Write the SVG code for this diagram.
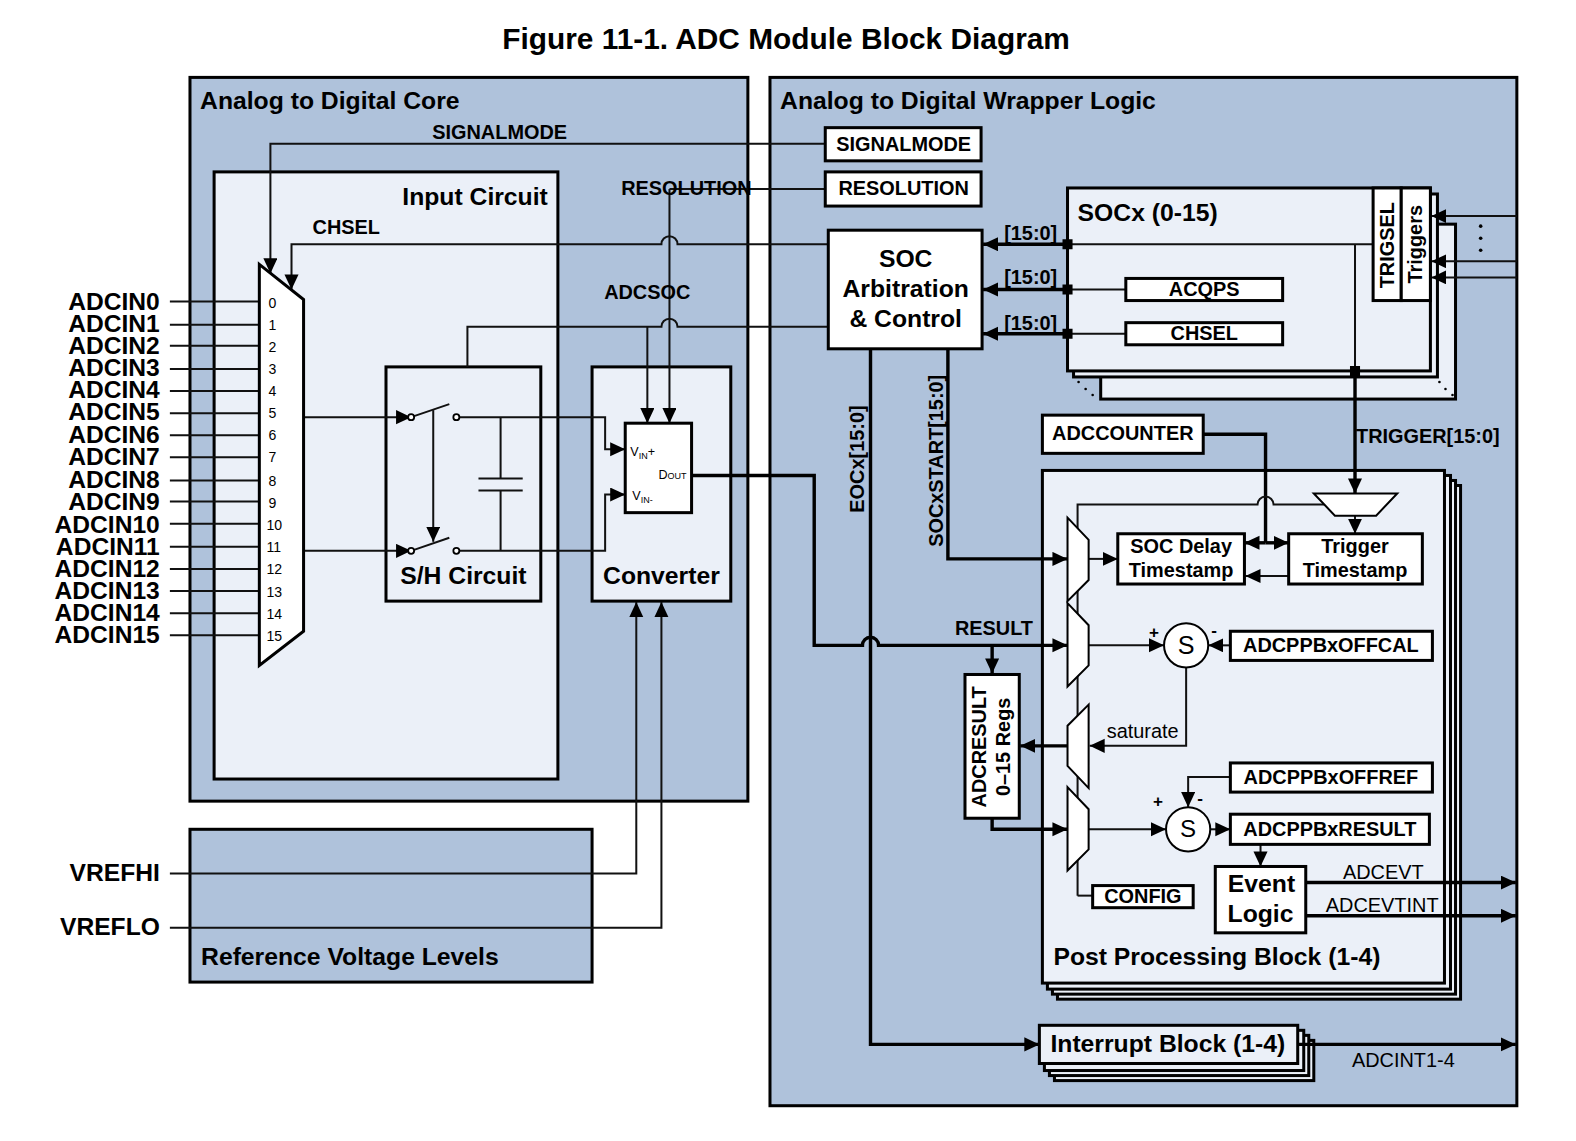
<svg xmlns="http://www.w3.org/2000/svg" width="1576" height="1141" viewBox="0 0 1576 1141">
<style>
text{font-family:"Liberation Sans",Arial,sans-serif;fill:#000}
.b{font-weight:bold}
.m{text-anchor:middle}
.e{text-anchor:end}
.panel{fill:#afc2db;stroke:#000;stroke-width:3}
.light{fill:#ebf0f8;stroke:#000;stroke-width:3}
.white{fill:#fff;stroke:#000;stroke-width:3}
.thin{fill:#fff;stroke:#000;stroke-width:2}
.t{fill:none;stroke:#111;stroke-width:2}
.k{fill:none;stroke:#000;stroke-width:3.4}
.a{marker-end:url(#ar)}
.s{font-size:24.6px}
.reg{font-size:19.8px}
.lab{font-size:19.8px}
.in{font-size:24.5px}
.n{font-size:14px}
</style>
<defs>
<marker id="ar" markerUnits="userSpaceOnUse" markerWidth="17" markerHeight="16" refX="15" refY="7" orient="auto"><path d="M0,0L15,7L0,14Z" fill="#000"/></marker>
</defs>
<rect width="1576" height="1141" fill="#fff"/>
<g transform="scale(1.0052)">
<text class="b m" x="782" y="49" font-size="29.7">Figure 11-1. ADC Module Block Diagram</text>

<g id="core"><rect class="panel" x="189" y="77" width="555" height="720"/><text class="b s" x="199" y="108">Analog to Digital Core</text></g>
<g id="wrapper"><rect class="panel" x="766" y="77" width="743" height="1023"/><text class="b s" x="776" y="108">Analog to Digital Wrapper Logic</text></g>
<g id="input-circuit"><rect class="light" x="213" y="171" width="342" height="604"/><text class="b s e" x="545" y="204">Input Circuit</text></g>
<g id="sh-circuit"><rect class="light" x="384" y="365" width="154" height="233"/><text class="b s m" x="461" y="581">S/H Circuit</text></g>
<g id="converter"><rect class="light" x="589" y="365" width="138" height="233"/><text class="b s m" x="658" y="581">Converter</text></g>
<g id="reference"><rect class="panel" x="189" y="825" width="400" height="152"/><text class="b s" x="200" y="960">Reference Voltage Levels</text></g>
<g id="socx-back"><rect class="light" x="1095" y="223" width="353" height="174"/><rect class="light" x="1068" y="193" width="362" height="182"/></g>
<g id="socx"><rect class="light" x="1062" y="187" width="361" height="182"/><text class="b s" x="1072" y="220">SOCx (0-15)</text></g>
<g id="ppb"><rect class="light" x="1052" y="483" width="401" height="511"/><rect class="light" x="1047" y="478" width="401" height="511"/><rect class="light" x="1042" y="473" width="401" height="511"/><rect class="light" x="1037" y="468" width="400" height="510"/><text class="b s" x="1048" y="960">Post Processing Block (1-4)</text></g>
<g id="interrupt"><rect class="light" x="1049" y="1035" width="258" height="40"/><rect class="light" x="1044" y="1030" width="258" height="40"/><rect class="light" x="1039" y="1025" width="258" height="40"/><rect class="light" x="1034" y="1020" width="257" height="38"/><text class="b s" x="1045" y="1047">Interrupt Block (1-4)</text></g>

<g id="connectors">
<path class="t a" d="M821,143H269V272"/>
<path class="t" d="M821,188H666"/>
<path class="t a" d="M666,188V421"/>
<path class="t a" d="M824,243H674A8,8 0 0 0 658,243H290V288"/>
<path class="t" d="M824,325H674A8,8 0 0 0 658,325H465V365"/>
<path class="t a" d="M644,325V421"/>
<path class="t" d="M169,300H258M169,323H258M169,344H258M169,367H258M169,389H258M169,411H258M169,433H258M169,455H258M169,478H258M169,499H258M169,521H258M169,544H258M169,566H258M169,588H258M169,610H258M169,632H258"/>
<path class="t a" d="M302,415H409"/>
<path class="t a" d="M302,548H409"/>
<path class="t" d="M409,415L447,402M409,548L447,535"/>
<path class="t a" d="M431,408V539"/>
<path class="t a" d="M454,415H602V447H622"/>
<path class="t a" d="M454,548H602V492H622"/>
<path class="t" d="M498,415V476M498,488V548"/>
<path class="t" d="M476,476H520M476,488H520"/>
<circle cx="409" cy="415" r="3" fill="#fff" stroke="#000" stroke-width="1.8"/>
<circle cx="454" cy="415" r="3" fill="#fff" stroke="#000" stroke-width="1.8"/>
<circle cx="409" cy="548" r="3" fill="#fff" stroke="#000" stroke-width="1.8"/>
<circle cx="454" cy="548" r="3" fill="#fff" stroke="#000" stroke-width="1.8"/>
<path class="t a" d="M169,869H633V599"/>
<path class="t a" d="M169,923H658V599"/>
<path class="k a" d="M688,473H810V642H858A8,8 0 0 1 874,642H1062"/>
<path class="k a" d="M987,642V670"/>
<path class="k a" d="M1062,243H978"/>
<path class="k a" d="M1062,288H978"/>
<path class="k a" d="M1062,332H978"/>
<path class="t" d="M1062,243H1366M1062,288H1120M1062,332H1120M1348,243V369"/>
<path class="k a" d="M1348,369V491"/>
<path d="M1057,238h10v10h-10zM1057,283h10v10h-10zM1057,327h10v10h-10zM1343,364h10v10h-10z" fill="#000"/>
<path class="t a" d="M1509,215H1424"/>
<path class="t a" d="M1509,260H1424"/>
<path class="t a" d="M1509,276H1424"/>
<path class="k a" d="M866,347V1039H1034"/>
<path class="k a" d="M943,347V556H1062"/>
<path class="k" d="M1197,432H1259V540"/>
<path class="k a" d="M1259,540H1282"/>
<path class="k a" d="M1259,540H1238"/>
<path class="t a" d="M1282,573H1239"/>
<path class="t" d="M1072,891V502H1251A8,8 0 0 1 1267,502H1325"/>
<path class="t" d="M1072,891H1087"/>
<path class="t a" d="M1348,513V531"/>
<path class="t a" d="M1083,556H1112"/>
<path class="t a" d="M1083,642H1158"/>
<path class="t a" d="M1223,642H1202"/>
<path class="t a" d="M1180,664V742H1084"/>
<path class="k a" d="M1062,742H1015"/>
<path class="k a" d="M987,814V825H1062"/>
<path class="t a" d="M1083,825H1160"/>
<path class="t a" d="M1204,825H1224"/>
<path class="t a" d="M1224,773H1182V803"/>
<path class="t a" d="M1254,840V862"/>
<path class="k a" d="M1299,878H1508"/>
<path class="k a" d="M1299,911H1508"/>
<path class="k a" d="M1291,1039H1508"/>
</g>

<g id="input-mux"><path class="white" d="M258,263L302,298V628L258,662Z"/>
<g class="n"><text x="267" y="306">0</text><text x="267" y="328">1</text><text x="267" y="350">2</text><text x="267" y="372">3</text><text x="267" y="394">4</text><text x="267" y="416">5</text><text x="267" y="438">6</text><text x="267" y="460">7</text><text x="267" y="483">8</text><text x="267" y="505">9</text><text x="265" y="527">10</text><text x="265" y="549">11</text><text x="265" y="571">12</text><text x="265" y="594">13</text><text x="265" y="616">14</text><text x="265" y="638">15</text></g></g>
<g id="adcin" class="b in"><text class="e" x="159" y="308">ADCIN0</text><text class="e" x="159" y="330">ADCIN1</text><text class="e" x="159" y="352">ADCIN2</text><text class="e" x="159" y="374">ADCIN3</text><text class="e" x="159" y="396">ADCIN4</text><text class="e" x="159" y="418">ADCIN5</text><text class="e" x="159" y="441">ADCIN6</text><text class="e" x="159" y="463">ADCIN7</text><text class="e" x="159" y="485">ADCIN8</text><text class="e" x="159" y="507">ADCIN9</text><text class="e" x="159" y="530">ADCIN10</text><text class="e" x="159" y="552">ADCIN11</text><text class="e" x="159" y="574">ADCIN12</text><text class="e" x="159" y="596">ADCIN13</text><text class="e" x="159" y="618">ADCIN14</text><text class="e" x="159" y="640">ADCIN15</text></g>
<g id="vrefhi"><text class="b in e" x="159" y="876">VREFHI</text></g>
<g id="vreflo"><text class="b in e" x="159" y="930">VREFLO</text></g>
<g id="adc"><rect class="white" x="622" y="421" width="66" height="89"/><text x="627" y="454" font-size="12.5">V<tspan font-size="9" dy="3">IN</tspan><tspan dy="-3">+</tspan></text><text x="629" y="497" font-size="12.5">V<tspan font-size="9" dy="3">IN-</tspan></text><text x="655" y="477" font-size="12.5">D<tspan font-size="9">OUT</tspan></text></g>
<g id="signalmode"><rect class="white" x="821" y="127" width="155" height="33"/><text class="b reg m" x="899" y="150">SIGNALMODE</text></g>
<g id="resolution"><rect class="white" x="821" y="171" width="155" height="34"/><text class="b reg m" x="899" y="194">RESOLUTION</text></g>
<g id="soc-arb"><rect class="white" x="824" y="229" width="153" height="118"/><g class="b s m"><text x="901" y="266">SOC</text><text x="901" y="295">Arbitration</text><text x="901" y="325">&amp; Control</text></g></g>
<g id="acqps"><rect class="white" x="1120" y="277" width="156" height="22"/><text class="b lab m" x="1198" y="294">ACQPS</text></g>
<g id="chsel"><rect class="white" x="1120" y="321" width="156" height="22"/><text class="b lab m" x="1198" y="338">CHSEL</text></g>
<g id="trigsel"><rect class="white" x="1366" y="187" width="28" height="112"/><text class="b reg m" transform="translate(1387,244) rotate(-90)">TRIGSEL</text></g>
<g id="triggers"><rect class="white" x="1394" y="187" width="29" height="112"/><text class="b lab m" transform="translate(1415,243) rotate(-90)">Triggers</text></g>
<g id="adccounter"><rect class="white" x="1037" y="413" width="160" height="38"/><text class="b reg m" x="1117" y="438">ADCCOUNTER</text></g>
<g id="trigger-mux"><path class="thin" d="M1307,491H1390L1369,513H1328Z"/></g>
<g id="soc-delay"><rect class="white" x="1112" y="531" width="126" height="50"/><g class="b lab m"><text x="1175" y="550">SOC Delay</text><text x="1175" y="574">Timestamp</text></g></g>
<g id="trigger-ts"><rect class="white" x="1282" y="531" width="133" height="50"/><g class="b lab m"><text x="1348" y="550">Trigger</text><text x="1348" y="574">Timestamp</text></g></g>
<g id="mux1"><path class="thin" d="M1062,515L1083,537V577L1062,598Z"/></g>
<g id="mux2"><path class="thin" d="M1062,600L1083,622V662L1062,683Z"/></g>
<g id="mux3"><path class="thin" d="M1083,701L1062,722V762L1083,784Z"/></g>
<g id="mux4"><path class="thin" d="M1062,783L1083,805V845L1062,866Z"/></g>
<g id="s1"><circle class="thin" cx="1180" cy="642" r="22"/><text class="m" x="1180" y="651" font-size="25">S</text></g>
<g id="s2"><circle class="thin" cx="1182" cy="825" r="22"/><text class="m" x="1182" y="833" font-size="24">S</text></g>
<g id="offcal"><rect class="white" x="1224" y="628" width="201" height="29"/><text class="b lab m" x="1324" y="649">ADCPPBxOFFCAL</text></g>
<g id="offref"><rect class="white" x="1224" y="759" width="201" height="29"/><text class="b lab m" x="1324" y="780">ADCPPBxOFFREF</text></g>
<g id="ppbresult"><rect class="white" x="1224" y="810" width="198" height="30"/><text class="b lab m" x="1323" y="832">ADCPPBxRESULT</text></g>
<g id="config"><rect class="white" x="1087" y="881" width="100" height="22"/><text class="b lab m" x="1137" y="898">CONFIG</text></g>
<g id="event-logic"><rect class="white" x="1209" y="862" width="90" height="66"/><g class="b s m"><text x="1255" y="887">Event</text><text x="1254" y="917">Logic</text></g></g>
<g id="adcresult"><rect class="white" x="960" y="671" width="54" height="143"/><g class="b lab m"><text transform="translate(981,743) rotate(-90)">ADCRESULT</text><text transform="translate(1005,743) rotate(-90)">0–15 Regs</text></g></g>

<g id="labels">
<text class="b lab" x="430" y="138">SIGNALMODE</text>
<text class="b lab" x="618" y="194">RESOLUTION</text>
<text class="b lab" x="311" y="233">CHSEL</text>
<text class="b lab" x="601" y="297">ADCSOC</text>
<text class="b lab" x="999" y="239">[15:0]</text>
<text class="b lab" x="999" y="283">[15:0]</text>
<text class="b lab" x="999" y="328">[15:0]</text>
<text class="b lab" x="1349" y="441">TRIGGER[15:0]</text>
<text class="b lab" x="950" y="632">RESULT</text>
<text class="b lab" transform="translate(860,510) rotate(-90)">EOCx[15:0]</text>
<text class="b lab" transform="translate(938,544) rotate(-90)">SOCxSTART[15:0]</text>
<text x="1101" y="734" font-size="19.8">saturate</text>
<text x="1336" y="874" font-size="19.8">ADCEVT</text>
<text x="1319" y="907" font-size="19.8">ADCEVTINT</text>
<text x="1345" y="1061" font-size="19.8">ADCINT1-4</text>
<text class="b" x="1143" y="635" font-size="17">+</text>
<text class="b" x="1205" y="633" font-size="17">-</text>
<text class="b" x="1147" y="803" font-size="17">+</text>
<text class="b" x="1191" y="800" font-size="17">-</text>
<g fill="#000"><circle cx="1473" cy="225" r="1.8"/><circle cx="1473" cy="237" r="1.8"/><circle cx="1473" cy="249" r="1.8"/><circle cx="1073" cy="380" r="1.3"/><circle cx="1080" cy="387" r="1.3"/><circle cx="1087" cy="393" r="1.3"/><circle cx="1432" cy="380" r="1.3"/><circle cx="1438" cy="387" r="1.3"/><circle cx="1445" cy="393" r="1.3"/></g>
</g>
</g>
</svg>
